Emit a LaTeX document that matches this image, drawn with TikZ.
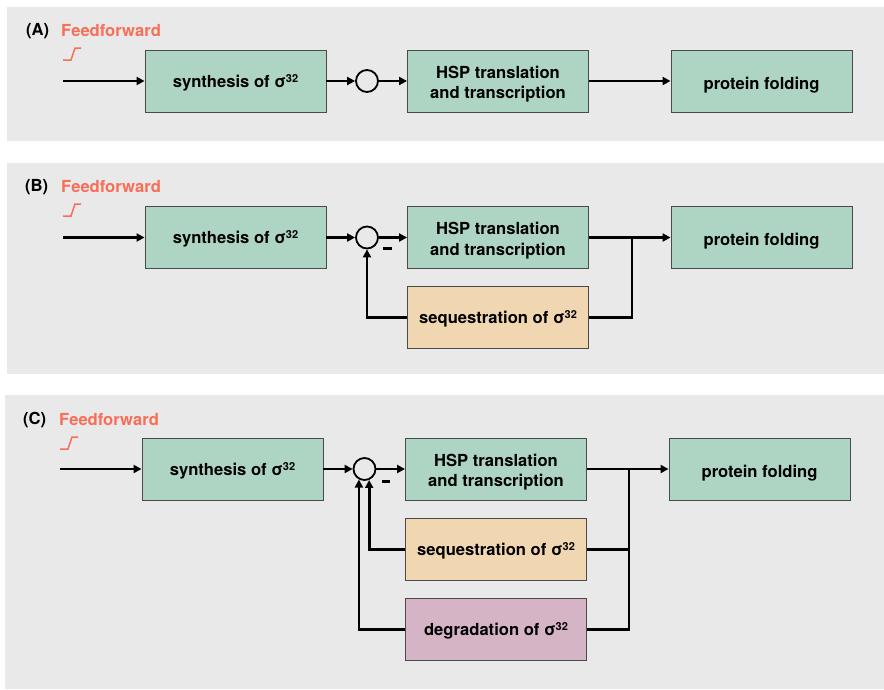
\documentclass[tikz,border=0pt]{standalone}
\usepackage{fontspec}
\setmainfont{TeX Gyre Heros}
\usetikzlibrary{arrows.meta}
\definecolor{panelgray}{HTML}{E9E9E9}
\definecolor{blkgreen}{HTML}{AED4C3}
\definecolor{blkorange}{HTML}{F1D7B1}
\definecolor{blkpurple}{HTML}{D5B5C5}
\definecolor{ffred}{HTML}{F86E58}
\definecolor{boxline}{HTML}{4A4A4A}
\newcommand{\sigmaTT}{σ\raisebox{0.55ex}{\fontsize{11}{11}\selectfont 32}}
% extra room above the first of two lines, lowering the pair a little
\newcommand{\topgap}{\rule{0pt}{18.5pt}}
\begin{document}
\begin{tikzpicture}[x=1pt,y=-1pt,
  blk/.style={draw=boxline, line width=0.9pt, minimum width=181pt, minimum height=62pt,
    inner sep=0pt, align=center, font=\bfseries\fontsize{16.6}{20.4}\selectfont},
  one/.style={text height=18pt, text depth=2pt},
  sig/.style={text height=16pt, text depth=3.4pt},
  green/.style={blk, fill=blkgreen},
  orange/.style={blk, fill=blkorange},
  purple/.style={blk, fill=blkpurple},
  sum/.style={circle, draw=black, line width=1.8pt, minimum size=22pt, inner sep=0pt},
  wire/.style={line width=2.8pt},
  arr/.style={wire, -{Triangle[length=8pt,width=8pt]}},
  tag/.style={anchor=west, inner sep=0pt, font=\bfseries\fontsize{16.6}{20}\selectfont},
  ff/.style={tag, text=ffred},
  stepline/.style={draw=ffred, line width=1.5pt},
  minus/.style={fill=black, inner sep=0pt, minimum width=8.6pt, minimum height=3.2pt}]

\fill[white] (0,0) rectangle (884,689);
\useasboundingbox (0,0) rectangle (884,689);

% panel backgrounds
\fill[panelgray] (7,7) rectangle (884,141);
\fill[panelgray] (7,163) rectangle (884,374);
\fill[panelgray] (5,395) rectangle (884,689);

% ---------- (A) ----------
\node[tag] (labA) at (26,31) {(A)};
\node[ff] (ffA) at (61,31) {Feedforward};
\draw[stepline] (63,60) -- (71,60) -- (75,48) -- (81,48);
\coordinate (inA) at (63,81);
\node[green, sig] (synA) at (235.5,81) {synthesis of \sigmaTT};
\node[sum] (sumA) at (367,81) {};
\node[green] (hspA) at (498,81) {\topgap HSP translation\\and transcription};
\node[green, one] (pfA) at (761.5,81) {protein folding};
\draw[arr] (inA) -- (synA);
\draw[arr] (synA) -- (sumA);
\draw[arr] (sumA) -- (hspA);
\draw[arr] (hspA) -- (pfA);

% ---------- (B) ----------
\node[tag] (labB) at (25,187) {(B)};
\node[ff] (ffB) at (61,187) {Feedforward};
\draw[stepline] (63,216) -- (71,216) -- (75,204) -- (81,204);
\coordinate (inB) at (63,237.5);
\node[green, sig] (synB) at (235.5,237.5) {synthesis of \sigmaTT};
\node[sum] (sumB) at (367,237.5) {};
\node[green] (hspB) at (498,237.5) {\topgap HSP translation\\and transcription};
\node[green, one] (pfB) at (761.5,237.5) {protein folding};
\node[orange, sig] (seqB) at (498,317.5) {sequestration of \sigmaTT};
\node[minus] (mB) at (387.7,248.3) {};
\coordinate (jB) at (632,237.5);
\draw[arr] (inB) -- (synB);
\draw[arr] (synB) -- (sumB);
\draw[arr] (sumB) -- (hspB);
\draw[arr] (hspB) -- (pfB);
\draw[wire] (jB) |- (seqB.east);
\draw[arr] (seqB.west) -| (sumB.south);

% ---------- (C) ----------
\node[tag] (labC) at (23,420) {(C)};
\node[ff] (ffC) at (59,420) {Feedforward};
\draw[stepline] (60,449) -- (68,449) -- (72,437) -- (78,437);
\coordinate (inC) at (60,469);
\node[green, sig] (synC) at (232.5,469) {synthesis of \sigmaTT};
\node[sum] (sumC) at (364.5,469) {};
\node[green] (hspC) at (496,469) {\topgap HSP translation\\and transcription};
\node[green, one] (pfC) at (759.5,469) {protein folding};
\node[orange, sig] (seqC) at (496,549.5) {sequestration of \sigmaTT};
\node[purple, sig] (degC) at (496,629.5) {degradation of \sigmaTT};
\node[minus] (mC) at (386,481.5) {};
\coordinate (jC) at (629,469);
\draw[arr] (inC) -- (synC);
\draw[arr] (synC) -- (sumC);
\draw[arr] (sumC) -- (hspC);
\draw[arr] (hspC) -- (pfC);
\draw[wire] (jC) |- (degC.east);
\draw[wire] (seqC.east) -- (seqC.east -| jC);
\draw[arr] (seqC.west) -| (sumC.-67);
\draw[arr] (degC.west) -| (sumC.-118);
\end{tikzpicture}
\end{document}
